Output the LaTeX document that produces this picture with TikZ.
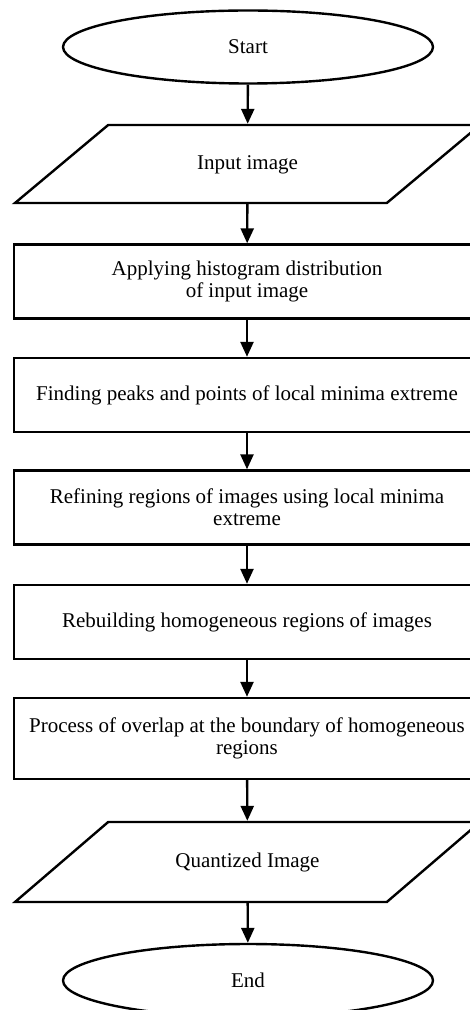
\documentclass[tikz,border=0pt]{standalone}
\usepackage{fontspec}
\setmainfont{Liberation Serif}
\usetikzlibrary{arrows.meta,shapes.geometric}

\begin{document}
\begin{tikzpicture}[x=0.5pt,y=-0.5pt,
        every node/.style={font=\fontsize{10.5}{11}\selectfont,align=center,line width=1.2pt},
        term/.style={draw,ellipse,minimum width=185pt,minimum height=36.5pt,inner sep=0pt},
        io/.style={draw,trapezium,trapezium left angle=12.7,trapezium right angle=167.3,
            trapezium stretches body=true,text height=8pt,text depth=2.5pt,
            minimum width=232.5pt,minimum height=39pt,inner sep=0pt},
        proc/.style={draw,rectangle,minimum width=233pt,minimum height=37pt,inner sep=0pt},
        flow/.style={-{Triangle[length=7.5pt,width=6.5pt]},line width=1.2pt}]
        \fill[white] (0,0) rectangle (470,1010);
        \useasboundingbox (0,0) rectangle (470,1010);

        \node[term] (start) at (248,47) {Start};
        \node[io] (input) at (247.5,164) {Input image};
        \node[proc] (hist) at (247,281.5) {Applying histogram distribution\\of input image};
        \node[proc] (peaks) at (247,395) {Finding peaks and points of local minima extreme};
        \node[proc] (refine) at (247,507.5) {Refining regions of images using local minima\\extreme};
        \node[proc] (rebuild) at (247,622) {Rebuilding homogeneous regions of images};
        \node[proc,minimum height=40.5pt] (overlap) at (247,738.5) {Process of overlap at the boundary of homogeneous\\regions};
        \node[io,minimum height=40pt] (output) at (247.5,862) {Quantized Image};
        \node[term] (end) at (248,980.5) {End};

        \draw[flow] (start) -- (input);
        \draw[flow] (input) -- (hist);
        \draw[flow] (hist) -- (peaks);
        \draw[flow] (peaks) -- (refine);
        \draw[flow] (refine) -- (rebuild);
        \draw[flow] (rebuild) -- (overlap);
        \draw[flow] (overlap) -- (output);
        \draw[flow] (output) -- (end);
    \end{tikzpicture}
\end{document}
